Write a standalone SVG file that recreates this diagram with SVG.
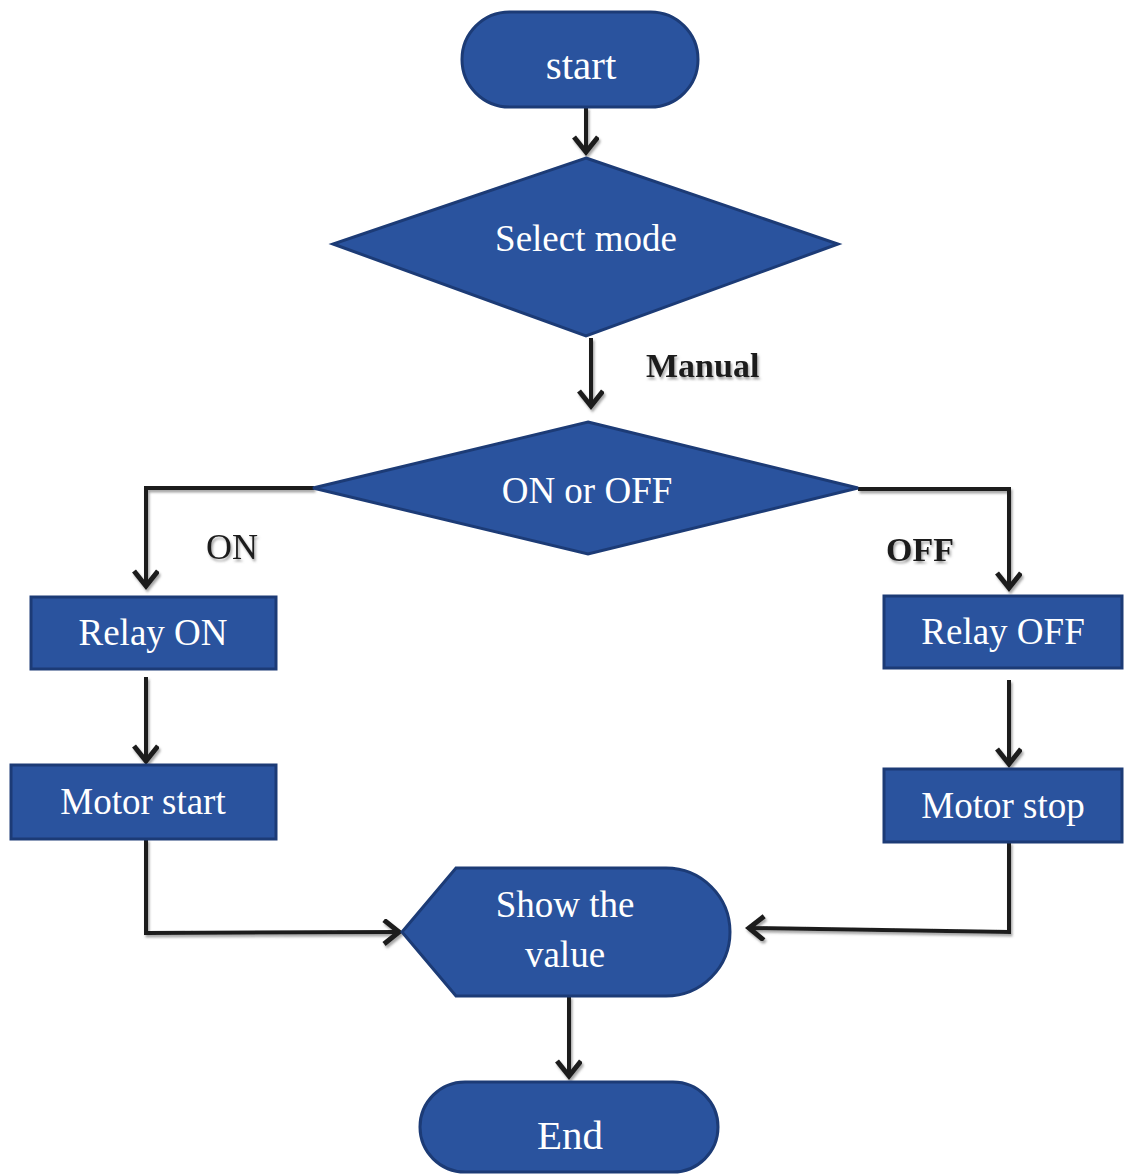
<svg xmlns="http://www.w3.org/2000/svg" width="1125" height="1174" viewBox="0 0 1125 1174">
  <style>
    .node { fill: #2a539e; stroke: #1c3b76; stroke-width: 3; }
    .label { font-family: "Liberation Serif", "Times New Roman", serif; fill: #ffffff; text-anchor: middle; font-size: 37px; }
    .big { font-size: 41px; }
    .edge { fill: none; stroke: #1c1c1c; stroke-width: 4; }
    .tag { font-family: "Liberation Serif", "Times New Roman", serif; fill: #1e1e1e; font-size: 36px; }
    .bold { font-weight: bold; font-size: 34px; }
  </style>
  <defs>
    <marker id="arrow" markerUnits="userSpaceOnUse" markerWidth="32" markerHeight="32" refX="17" refY="13" orient="auto">
      <path d="M2,1 L17,13 L2,25" fill="none" stroke="#1c1c1c" stroke-width="5" stroke-linejoin="miter"/>
    </marker>
    <filter id="shadow" x="-10%" y="-10%" width="120%" height="120%">
      <feDropShadow dx="1.5" dy="2.5" stdDeviation="1.2" flood-color="#6a6a6a" flood-opacity="0.6"/>
    </filter>
  </defs>

  <rect width="1125" height="1174" fill="#ffffff"/>

  <!-- connectors -->
  <g id="connectors" filter="url(#shadow)">
    <path class="edge" d="M586,107 L586,152" marker-end="url(#arrow)"/>
    <path class="edge" d="M591,338 L591,406" marker-end="url(#arrow)"/>
    <path class="edge" d="M314,488 L146,488 L146,586" marker-end="url(#arrow)"/>
    <path class="edge" d="M858,489 L1009,489 L1009,588" marker-end="url(#arrow)"/>
    <path class="edge" d="M146,677 L146,761" marker-end="url(#arrow)"/>
    <path class="edge" d="M1009,680 L1009,764" marker-end="url(#arrow)"/>
    <path class="edge" d="M146,839 L146,933 L399,932" marker-end="url(#arrow)"/>
    <path class="edge" d="M1009,842 L1009,932 L749,928" marker-end="url(#arrow)"/>
    <path class="edge" d="M569,996 L569,1076" marker-end="url(#arrow)"/>
  </g>

  <!-- branch labels -->
  <g id="edge-labels" filter="url(#shadow)">
    <text class="tag bold" x="646" y="377">Manual</text>
    <text class="tag" x="206" y="559">ON</text>
    <text class="tag bold" x="886" y="561">OFF</text>
  </g>

  <g id="start">
    <rect class="node" x="462" y="12" width="236" height="95" rx="47.5" ry="47.5"/>
    <text class="label big" x="581" y="79">start</text>
  </g>

  <g id="select-mode">
    <polygon class="node" points="586,158 838,244 586,336 333,244"/>
    <text class="label" x="586" y="251">Select mode</text>
  </g>

  <g id="on-or-off">
    <polygon class="node" points="588,422 858,488 588,554 313,488"/>
    <text class="label" x="587" y="503">ON or OFF</text>
  </g>

  <g id="relay-on">
    <rect class="node" x="31" y="597" width="245" height="72"/>
    <text class="label" x="153" y="645">Relay ON</text>
  </g>

  <g id="motor-start">
    <rect class="node" x="11" y="765" width="265" height="74"/>
    <text class="label" x="143" y="814">Motor start</text>
  </g>

  <g id="relay-off">
    <rect class="node" x="884" y="596" width="238" height="72"/>
    <text class="label" x="1003" y="644">Relay OFF</text>
  </g>

  <g id="motor-stop">
    <rect class="node" x="884" y="769" width="238" height="73"/>
    <text class="label" x="1003" y="818">Motor stop</text>
  </g>

  <g id="show-value">
    <path class="node" d="M402,932 L456,868 L666,868 A64,64 0 0 1 666,996 L456,996 Z"/>
    <text class="label" x="565" y="917">Show the</text>
    <text class="label" x="565" y="967">value</text>
  </g>

  <g id="end">
    <rect class="node" x="420" y="1082" width="298" height="90" rx="45" ry="45"/>
    <text class="label big" x="570" y="1149">End</text>
  </g>
</svg>
